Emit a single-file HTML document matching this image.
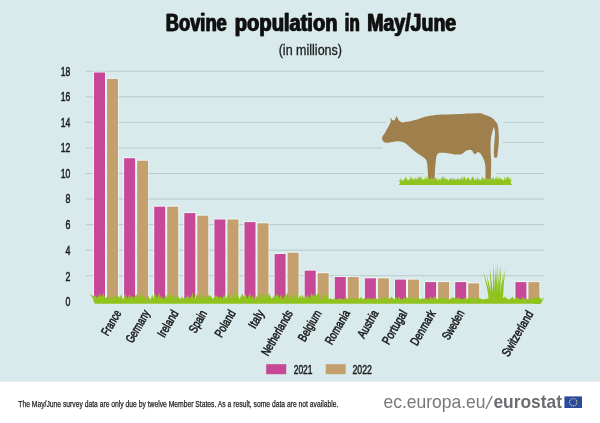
<!DOCTYPE html>
<html><head><meta charset="utf-8"><title>Bovine population in May/June</title>
<style>html,body{margin:0;padding:0;background:#fff}svg{display:block}text{font-family:"Liberation Sans",sans-serif}</style></head><body>
<svg width="600" height="423" viewBox="0 0 600 423">
<rect x="0" y="0" width="600" height="423" fill="#fff"/>
<rect x="0" y="0" width="600" height="381.7" fill="#d8eaec"/>
<text y="31.3" font-size="24.4" font-weight="bold" fill="#111" stroke="#111" stroke-width="0.3" style="filter:drop-shadow(1px 0 0 #111)"><tspan x="165.3" textLength="61" lengthAdjust="spacingAndGlyphs">Bovine</tspan> <tspan x="234.3" textLength="102.7" lengthAdjust="spacingAndGlyphs">population</tspan> <tspan x="344.3" textLength="14.7" lengthAdjust="spacingAndGlyphs">in</tspan> <tspan x="366.7" textLength="89" lengthAdjust="spacingAndGlyphs">May/June</tspan></text>
<text x="278.7" y="55" font-size="14.4" fill="#1a1a1a" stroke="#1a1a1a" stroke-width="0.3" textLength="63.3" lengthAdjust="spacingAndGlyphs">(in millions)</text>
<text x="70.4" y="305.70" font-size="13" fill="#1a1a1a" stroke="#1a1a1a" stroke-width="0.5" text-anchor="end" textLength="4.9" lengthAdjust="spacingAndGlyphs">0</text>
<line x1="85.7" x2="544" y1="275.74" y2="275.74" stroke="#abbdc0" stroke-width="0.7"/>
<text x="70.4" y="281.14" font-size="13" fill="#1a1a1a" stroke="#1a1a1a" stroke-width="0.5" text-anchor="end" textLength="4.9" lengthAdjust="spacingAndGlyphs">2</text>
<line x1="85.7" x2="544" y1="250.18" y2="250.18" stroke="#abbdc0" stroke-width="0.7"/>
<text x="70.4" y="254.58" font-size="13" fill="#1a1a1a" stroke="#1a1a1a" stroke-width="0.5" text-anchor="end" textLength="4.9" lengthAdjust="spacingAndGlyphs">4</text>
<line x1="85.7" x2="544" y1="224.62" y2="224.62" stroke="#abbdc0" stroke-width="0.7"/>
<text x="70.4" y="229.02" font-size="13" fill="#1a1a1a" stroke="#1a1a1a" stroke-width="0.5" text-anchor="end" textLength="4.9" lengthAdjust="spacingAndGlyphs">6</text>
<line x1="85.7" x2="544" y1="199.06" y2="199.06" stroke="#abbdc0" stroke-width="0.7"/>
<text x="70.4" y="203.46" font-size="13" fill="#1a1a1a" stroke="#1a1a1a" stroke-width="0.5" text-anchor="end" textLength="4.9" lengthAdjust="spacingAndGlyphs">8</text>
<line x1="85.7" x2="423.7" y1="173.50" y2="173.50" stroke="#abbdc0" stroke-width="0.7"/>
<line x1="437.5" x2="480.5" y1="173.50" y2="173.50" stroke="#abbdc0" stroke-width="0.7"/>
<line x1="496.2" x2="544" y1="173.50" y2="173.50" stroke="#abbdc0" stroke-width="0.7"/>
<text x="70.4" y="177.90" font-size="13" fill="#1a1a1a" stroke="#1a1a1a" stroke-width="0.5" text-anchor="end" textLength="9.6" lengthAdjust="spacingAndGlyphs">10</text>
<line x1="85.7" x2="382.5" y1="147.94" y2="147.94" stroke="#abbdc0" stroke-width="0.7"/>
<line x1="502.5" x2="544" y1="142.3" y2="142.3" stroke="#abbdc0" stroke-width="0.7"/>
<text x="70.4" y="152.34" font-size="13" fill="#1a1a1a" stroke="#1a1a1a" stroke-width="0.5" text-anchor="end" textLength="9.6" lengthAdjust="spacingAndGlyphs">12</text>
<line x1="85.7" x2="386" y1="122.38" y2="122.38" stroke="#abbdc0" stroke-width="0.7"/>
<line x1="503.7" x2="544" y1="122.38" y2="122.38" stroke="#abbdc0" stroke-width="0.7"/>
<text x="70.4" y="126.78" font-size="13" fill="#1a1a1a" stroke="#1a1a1a" stroke-width="0.5" text-anchor="end" textLength="9.6" lengthAdjust="spacingAndGlyphs">14</text>
<line x1="85.7" x2="544" y1="96.82" y2="96.82" stroke="#abbdc0" stroke-width="0.7"/>
<text x="70.4" y="101.22" font-size="13" fill="#1a1a1a" stroke="#1a1a1a" stroke-width="0.5" text-anchor="end" textLength="9.6" lengthAdjust="spacingAndGlyphs">16</text>
<line x1="85.7" x2="544" y1="71.26" y2="71.26" stroke="#abbdc0" stroke-width="0.7"/>
<text x="70.4" y="75.66" font-size="13" fill="#1a1a1a" stroke="#1a1a1a" stroke-width="0.5" text-anchor="end" textLength="9.6" lengthAdjust="spacingAndGlyphs">18</text>
<path d="M382.3 137.0 C381.8 138.5 382.1 139.4 382.6 140.3 C383.1 141.2 383.6 142.3 385.2 142.6 C386.8 142.9 390.0 142.1 392.3 141.9 C394.6 141.7 396.9 141.2 398.8 141.3 C400.8 141.4 402.3 141.8 404.0 142.6 C405.7 143.4 407.5 145.0 409.2 146.4 C410.9 147.8 412.4 149.4 414.4 150.9 C416.3 152.4 419.0 154.2 420.9 155.6 C422.8 157.0 424.7 157.9 425.8 159.5 C426.9 161.1 426.9 161.7 427.3 165.0 C427.7 168.3 427.9 174.7 428.2 179.5 L434.6 179.5 C434.9 174.7 434.9 169.2 435.4 165.0 C435.8 160.8 436.0 156.2 437.3 154.2 C438.6 152.1 441.0 152.8 443.0 152.7 C445.0 152.6 447.2 153.1 449.5 153.4 C451.8 153.7 455.0 154.4 457.0 154.5 C459.0 154.6 460.2 154.7 461.5 154.2 C462.8 153.7 463.8 152.2 465.0 151.5 C466.2 150.8 467.4 150.1 468.6 149.9 C469.8 149.7 471.2 149.9 472.0 150.4 C472.8 150.9 472.9 152.5 473.5 153.2 C474.1 153.8 474.9 153.9 475.6 154.3 C475.9 153.9 476.1 153.3 476.6 153.0 C477.1 152.7 477.9 151.6 478.8 152.2 C479.8 152.8 481.2 154.4 482.3 156.5 C483.4 158.6 484.7 160.9 485.2 164.7 C485.7 168.5 485.4 174.6 485.5 179.5 L490.8 179.5 C490.9 174.0 491.2 167.7 491.2 163.0 C491.2 158.3 490.6 155.7 490.6 151.5 C490.6 147.3 490.4 142.2 491.0 138.0 C491.6 133.8 492.9 130.3 493.9 126.5 C494.3 128.7 495.0 129.8 495.0 133.0 C495.0 136.2 494.3 142.2 494.1 146.0 C493.9 149.8 493.8 153.8 494.0 155.8 C494.2 157.8 494.7 157.6 495.2 157.8 C495.7 158.0 496.5 157.4 497.2 157.2 C497.7 152.1 498.6 147.0 498.8 142.0 C499.0 137.0 498.6 130.4 498.1 127.0 C497.6 123.6 497.0 123.4 495.8 121.8 C494.6 120.2 492.9 118.5 491.0 117.3 C489.1 116.1 486.2 115.5 484.5 114.8 C482.8 114.1 482.9 113.4 480.5 113.2 C478.1 113.0 473.6 113.3 470.0 113.4 C466.4 113.5 463.1 113.8 458.9 114.0 C454.7 114.2 449.0 114.4 445.0 114.6 C441.0 114.8 438.0 114.8 434.7 115.2 C431.4 115.6 428.4 115.9 425.3 116.7 C422.2 117.5 418.5 119.0 415.8 119.8 C413.1 120.6 410.7 121.2 409.0 121.5 C407.3 121.8 406.8 121.5 405.6 121.7 C404.4 121.9 403.1 122.6 402.0 122.4 C400.9 122.2 399.9 121.2 398.9 120.6 L396.6 116.1 L394.6 120.2 L392.2 120.2 L390.2 116.9 L390.9 121.5 C390.3 122.9 389.9 123.9 389.0 125.6 C388.1 127.2 386.9 129.5 385.8 131.4 C384.7 133.3 382.8 135.5 382.3 137.0 Z" fill="#d8eaec" stroke="#d8eaec" stroke-width="6" stroke-linejoin="round"/>
<path d="M382.3 137.0 C381.8 138.5 382.1 139.4 382.6 140.3 C383.1 141.2 383.6 142.3 385.2 142.6 C386.8 142.9 390.0 142.1 392.3 141.9 C394.6 141.7 396.9 141.2 398.8 141.3 C400.8 141.4 402.3 141.8 404.0 142.6 C405.7 143.4 407.5 145.0 409.2 146.4 C410.9 147.8 412.4 149.4 414.4 150.9 C416.3 152.4 419.0 154.2 420.9 155.6 C422.8 157.0 424.7 157.9 425.8 159.5 C426.9 161.1 426.9 161.7 427.3 165.0 C427.7 168.3 427.9 174.7 428.2 179.5 L434.6 179.5 C434.9 174.7 434.9 169.2 435.4 165.0 C435.8 160.8 436.0 156.2 437.3 154.2 C438.6 152.1 441.0 152.8 443.0 152.7 C445.0 152.6 447.2 153.1 449.5 153.4 C451.8 153.7 455.0 154.4 457.0 154.5 C459.0 154.6 460.2 154.7 461.5 154.2 C462.8 153.7 463.8 152.2 465.0 151.5 C466.2 150.8 467.4 150.1 468.6 149.9 C469.8 149.7 471.2 149.9 472.0 150.4 C472.8 150.9 472.9 152.5 473.5 153.2 C474.1 153.8 474.9 153.9 475.6 154.3 C475.9 153.9 476.1 153.3 476.6 153.0 C477.1 152.7 477.9 151.6 478.8 152.2 C479.8 152.8 481.2 154.4 482.3 156.5 C483.4 158.6 484.7 160.9 485.2 164.7 C485.7 168.5 485.4 174.6 485.5 179.5 L490.8 179.5 C490.9 174.0 491.2 167.7 491.2 163.0 C491.2 158.3 490.6 155.7 490.6 151.5 C490.6 147.3 490.4 142.2 491.0 138.0 C491.6 133.8 492.9 130.3 493.9 126.5 C494.3 128.7 495.0 129.8 495.0 133.0 C495.0 136.2 494.3 142.2 494.1 146.0 C493.9 149.8 493.8 153.8 494.0 155.8 C494.2 157.8 494.7 157.6 495.2 157.8 C495.7 158.0 496.5 157.4 497.2 157.2 C497.7 152.1 498.6 147.0 498.8 142.0 C499.0 137.0 498.6 130.4 498.1 127.0 C497.6 123.6 497.0 123.4 495.8 121.8 C494.6 120.2 492.9 118.5 491.0 117.3 C489.1 116.1 486.2 115.5 484.5 114.8 C482.8 114.1 482.9 113.4 480.5 113.2 C478.1 113.0 473.6 113.3 470.0 113.4 C466.4 113.5 463.1 113.8 458.9 114.0 C454.7 114.2 449.0 114.4 445.0 114.6 C441.0 114.8 438.0 114.8 434.7 115.2 C431.4 115.6 428.4 115.9 425.3 116.7 C422.2 117.5 418.5 119.0 415.8 119.8 C413.1 120.6 410.7 121.2 409.0 121.5 C407.3 121.8 406.8 121.5 405.6 121.7 C404.4 121.9 403.1 122.6 402.0 122.4 C400.9 122.2 399.9 121.2 398.9 120.6 L396.6 116.1 L394.6 120.2 L392.2 120.2 L390.2 116.9 L390.9 121.5 C390.3 122.9 389.9 123.9 389.0 125.6 C388.1 127.2 386.9 129.5 385.8 131.4 C384.7 133.3 382.8 135.5 382.3 137.0 Z" fill="#9f7f4c"/>
<path d="M398.8 185 L401 181.2 L510 181.2 L512 185 Z" fill="#90c31e"/>
<path d="M402 185 L398.6 180 L405 182 Z" fill="#90c31e"/>
<path d="M508 185 L512.2 179.8 L506 182 Z" fill="#90c31e"/>
<path d="M400.5 182.5 L400.2 177.2 L401.8 182.5 ZM400.5 182.5 L401.0 178.8 L403.5 182.5 ZM402.3 182.5 L404.7 178.2 L405.0 182.5 ZM403.4 182.5 L405.3 177.4 L406.6 182.5 ZM404.4 182.5 L406.0 176.1 L407.5 182.5 ZM406.0 182.5 L408.1 178.8 L409.1 182.5 ZM407.7 182.5 L409.8 178.9 L410.4 182.5 ZM408.8 182.5 L410.8 176.1 L411.9 182.5 ZM410.8 182.5 L412.0 176.4 L413.5 182.5 ZM412.3 182.5 L413.2 178.7 L415.6 182.5 ZM413.3 182.5 L415.3 177.6 L416.7 182.5 ZM414.7 182.5 L415.9 177.7 L417.6 182.5 ZM416.1 182.5 L418.0 176.0 L419.1 182.5 ZM417.8 182.5 L419.7 175.7 L421.0 182.5 ZM418.8 182.5 L421.2 175.8 L422.0 182.5 ZM420.3 182.5 L422.5 178.3 L423.4 182.5 ZM421.9 182.5 L424.0 178.8 L424.6 182.5 ZM423.9 182.5 L424.9 176.4 L426.4 182.5 ZM424.8 182.5 L426.8 176.5 L427.4 182.5 ZM425.4 182.5 L427.4 178.9 L428.5 182.5 ZM426.5 182.5 L428.1 175.8 L429.8 182.5 ZM428.7 182.5 L430.2 178.7 L431.4 182.5 ZM429.6 182.5 L431.1 177.7 L432.2 182.5 ZM430.6 182.5 L431.5 176.1 L433.1 182.5 ZM432.0 182.5 L433.6 177.8 L435.3 182.5 ZM433.5 182.5 L435.2 177.0 L436.6 182.5 ZM434.9 182.5 L436.4 177.3 L438.2 182.5 ZM436.8 182.5 L439.1 178.0 L439.4 182.5 ZM438.0 182.5 L439.3 179.0 L441.0 182.5 ZM439.7 182.5 L441.2 177.0 L442.1 182.5 ZM440.3 182.5 L442.2 177.5 L443.3 182.5 ZM441.4 182.5 L442.0 176.6 L444.5 182.5 ZM442.3 182.5 L443.4 175.8 L445.4 182.5 ZM443.7 182.5 L444.9 177.9 L446.7 182.5 ZM444.9 182.5 L445.9 177.0 L447.7 182.5 ZM446.0 182.5 L447.7 178.9 L449.1 182.5 ZM447.8 182.5 L449.7 178.3 L450.5 182.5 ZM448.9 182.5 L450.6 177.6 L451.5 182.5 ZM449.8 182.5 L451.8 177.9 L452.5 182.5 ZM450.8 182.5 L452.1 178.4 L454.0 182.5 ZM452.3 182.5 L453.4 177.5 L455.6 182.5 ZM453.4 182.5 L455.5 178.4 L456.3 182.5 ZM455.3 182.5 L457.2 178.1 L457.9 182.5 ZM456.5 182.5 L457.3 177.9 L459.7 182.5 ZM457.6 182.5 L458.9 178.1 L460.8 182.5 ZM459.1 182.5 L461.3 177.6 L461.9 182.5 ZM460.2 182.5 L462.2 175.9 L462.7 182.5 ZM461.9 182.5 L464.2 175.9 L464.7 182.5 ZM462.8 182.5 L464.7 176.2 L465.9 182.5 ZM464.4 182.5 L465.2 177.9 L467.1 182.5 ZM465.1 182.5 L467.2 178.1 L468.1 182.5 ZM465.8 182.5 L468.3 176.7 L469.1 182.5 ZM467.6 182.5 L468.3 177.1 L470.9 182.5 ZM469.6 182.5 L471.2 178.0 L472.2 182.5 ZM470.9 182.5 L472.5 175.9 L473.7 182.5 ZM472.1 182.5 L473.4 176.2 L474.8 182.5 ZM473.7 182.5 L475.2 178.3 L476.5 182.5 ZM475.5 182.5 L477.6 176.4 L478.1 182.5 ZM476.9 182.5 L478.7 179.0 L480.1 182.5 ZM479.0 182.5 L479.7 178.1 L481.4 182.5 ZM480.2 182.5 L482.1 177.4 L483.0 182.5 ZM481.2 182.5 L481.6 178.6 L483.6 182.5 ZM481.6 182.5 L482.5 176.2 L485.0 182.5 ZM483.3 182.5 L484.3 178.0 L486.0 182.5 ZM484.6 182.5 L485.5 177.8 L487.6 182.5 ZM486.0 182.5 L487.7 177.2 L488.6 182.5 ZM487.3 182.5 L488.3 178.4 L489.8 182.5 ZM488.4 182.5 L490.6 177.7 L491.6 182.5 ZM490.1 182.5 L491.5 177.8 L492.9 182.5 ZM491.6 182.5 L493.0 176.7 L494.5 182.5 ZM492.6 182.5 L493.3 176.7 L495.6 182.5 ZM494.0 182.5 L496.3 176.1 L496.8 182.5 ZM495.0 182.5 L496.1 176.4 L498.2 182.5 ZM496.6 182.5 L498.2 176.3 L499.2 182.5 ZM498.1 182.5 L500.1 176.8 L501.3 182.5 ZM499.8 182.5 L500.1 177.1 L502.3 182.5 ZM500.5 182.5 L501.2 178.9 L503.7 182.5 ZM501.3 182.5 L502.0 178.4 L504.6 182.5 ZM503.4 182.5 L505.0 176.2 L506.0 182.5 ZM504.7 182.5 L507.0 177.1 L508.1 182.5 ZM505.7 182.5 L507.7 177.3 L508.8 182.5 ZM506.6 182.5 L507.3 175.9 L509.8 182.5 ZM507.9 182.5 L508.8 176.3 L510.5 182.5 ZM509.0 182.5 L510.9 177.0 L510.5 182.5 Z" fill="#90c31e"/>
<rect x="93.0" y="71.5" width="13" height="230.8" fill="#fff" fill-opacity="0.55"/>
<rect x="106.0" y="77.9" width="13" height="224.4" fill="#fff" fill-opacity="0.55"/>
<rect x="94.0" y="72.5" width="11" height="229.8" fill="#c84898"/>
<rect x="107.0" y="78.9" width="11" height="223.4" fill="#c4a06e"/>
<rect x="123.1" y="157.2" width="13" height="145.1" fill="#fff" fill-opacity="0.55"/>
<rect x="136.1" y="159.7" width="13" height="142.6" fill="#fff" fill-opacity="0.55"/>
<rect x="124.1" y="158.2" width="11" height="144.1" fill="#c84898"/>
<rect x="137.1" y="160.7" width="11" height="141.6" fill="#c4a06e"/>
<rect x="153.2" y="205.7" width="13" height="96.6" fill="#fff" fill-opacity="0.55"/>
<rect x="166.2" y="205.7" width="13" height="96.6" fill="#fff" fill-opacity="0.55"/>
<rect x="154.2" y="206.7" width="11" height="95.6" fill="#c84898"/>
<rect x="167.2" y="206.7" width="11" height="95.6" fill="#c4a06e"/>
<rect x="183.3" y="212.1" width="13" height="90.2" fill="#fff" fill-opacity="0.55"/>
<rect x="196.3" y="214.7" width="13" height="87.6" fill="#fff" fill-opacity="0.55"/>
<rect x="184.3" y="213.1" width="11" height="89.2" fill="#c84898"/>
<rect x="197.3" y="215.7" width="11" height="86.6" fill="#c4a06e"/>
<rect x="213.4" y="218.5" width="13" height="83.8" fill="#fff" fill-opacity="0.55"/>
<rect x="226.4" y="218.5" width="13" height="83.8" fill="#fff" fill-opacity="0.55"/>
<rect x="214.4" y="219.5" width="11" height="82.8" fill="#c84898"/>
<rect x="227.4" y="219.5" width="11" height="82.8" fill="#c4a06e"/>
<rect x="243.5" y="221.1" width="13" height="81.2" fill="#fff" fill-opacity="0.55"/>
<rect x="256.5" y="222.3" width="13" height="80.0" fill="#fff" fill-opacity="0.55"/>
<rect x="244.5" y="222.1" width="11" height="80.2" fill="#c84898"/>
<rect x="257.5" y="223.3" width="11" height="79.0" fill="#c4a06e"/>
<rect x="273.6" y="253.0" width="13" height="49.3" fill="#fff" fill-opacity="0.55"/>
<rect x="286.6" y="251.7" width="13" height="50.6" fill="#fff" fill-opacity="0.55"/>
<rect x="274.6" y="254.0" width="11" height="48.3" fill="#c84898"/>
<rect x="287.6" y="252.7" width="11" height="49.6" fill="#c4a06e"/>
<rect x="303.7" y="269.6" width="13" height="32.7" fill="#fff" fill-opacity="0.55"/>
<rect x="316.7" y="272.2" width="13" height="30.1" fill="#fff" fill-opacity="0.55"/>
<rect x="304.7" y="270.6" width="11" height="31.7" fill="#c84898"/>
<rect x="317.7" y="273.2" width="11" height="29.1" fill="#c4a06e"/>
<rect x="333.8" y="276.0" width="13" height="26.3" fill="#fff" fill-opacity="0.55"/>
<rect x="346.8" y="276.0" width="13" height="26.3" fill="#fff" fill-opacity="0.55"/>
<rect x="334.8" y="277.0" width="11" height="25.3" fill="#c84898"/>
<rect x="347.8" y="277.0" width="11" height="25.3" fill="#c4a06e"/>
<rect x="363.9" y="277.3" width="13" height="25.0" fill="#fff" fill-opacity="0.55"/>
<rect x="376.9" y="277.3" width="13" height="25.0" fill="#fff" fill-opacity="0.55"/>
<rect x="364.9" y="278.3" width="11" height="24.0" fill="#c84898"/>
<rect x="377.9" y="278.3" width="11" height="24.0" fill="#c4a06e"/>
<rect x="394.0" y="278.6" width="13" height="23.7" fill="#fff" fill-opacity="0.55"/>
<rect x="407.0" y="278.6" width="13" height="23.7" fill="#fff" fill-opacity="0.55"/>
<rect x="395.0" y="279.6" width="11" height="22.7" fill="#c84898"/>
<rect x="408.0" y="279.6" width="11" height="22.7" fill="#c4a06e"/>
<rect x="424.1" y="281.1" width="13" height="21.2" fill="#fff" fill-opacity="0.55"/>
<rect x="437.1" y="281.1" width="13" height="21.2" fill="#fff" fill-opacity="0.55"/>
<rect x="425.1" y="282.1" width="11" height="20.2" fill="#c84898"/>
<rect x="438.1" y="282.1" width="11" height="20.2" fill="#c4a06e"/>
<rect x="454.2" y="281.1" width="13" height="21.2" fill="#fff" fill-opacity="0.55"/>
<rect x="467.2" y="282.4" width="13" height="19.9" fill="#fff" fill-opacity="0.55"/>
<rect x="455.2" y="282.1" width="11" height="20.2" fill="#c84898"/>
<rect x="468.2" y="283.4" width="11" height="18.9" fill="#c4a06e"/>
<rect x="514.4" y="281.1" width="13" height="21.2" fill="#fff" fill-opacity="0.55"/>
<rect x="527.4" y="281.1" width="13" height="21.2" fill="#fff" fill-opacity="0.55"/>
<rect x="515.4" y="282.1" width="11" height="20.2" fill="#c84898"/>
<rect x="528.4" y="282.1" width="11" height="20.2" fill="#c4a06e"/>
<path d="M95 303.8 L92.5 299.4 L542 299.4 L540 303.8 Z" fill="#90c31e"/>
<path d="M97 303.5 L89.8 294.3 L100 299.5 Z" fill="#90c31e"/>
<path d="M534 304 L544.2 297.6 L540.5 304 Z" fill="#90c31e"/>
<path d="M95.0 300.5 L95.5 296.2 L97.1 300.5 ZM95.0 300.5 L95.1 295.2 L99.0 300.5 ZM97.5 300.5 L97.8 294.8 L101.1 300.5 ZM98.9 300.5 L99.7 292.9 L103.2 300.5 ZM100.7 300.5 L103.4 292.3 L105.5 300.5 ZM102.8 300.5 L106.8 296.8 L108.2 300.5 ZM105.8 300.5 L107.0 296.4 L109.5 300.5 ZM109.0 300.5 L111.4 294.1 L112.8 300.5 ZM110.9 300.5 L111.7 296.7 L115.5 300.5 ZM112.8 300.5 L114.6 294.9 L117.7 300.5 ZM115.8 300.5 L119.1 295.5 L120.2 300.5 ZM119.0 300.5 L121.1 294.1 L123.0 300.5 ZM121.9 300.5 L126.1 295.6 L126.9 300.5 ZM124.0 300.5 L125.0 293.2 L128.4 300.5 ZM127.0 300.5 L129.7 293.7 L130.6 300.5 ZM128.9 300.5 L132.2 295.4 L134.2 300.5 ZM132.0 300.5 L135.6 294.7 L136.7 300.5 ZM135.6 300.5 L136.3 293.7 L140.1 300.5 ZM138.5 300.5 L142.0 292.0 L143.3 300.5 ZM140.9 300.5 L141.3 293.7 L145.2 300.5 ZM143.6 300.5 L144.0 296.4 L147.5 300.5 ZM146.8 300.5 L148.3 295.8 L150.6 300.5 ZM150.2 300.5 L152.3 294.8 L153.9 300.5 ZM152.9 300.5 L154.7 292.7 L158.0 300.5 ZM155.8 300.5 L159.5 292.6 L160.0 300.5 ZM157.8 300.5 L158.8 295.8 L161.7 300.5 ZM160.0 300.5 L160.6 295.7 L164.7 300.5 ZM162.7 300.5 L166.4 294.2 L166.9 300.5 ZM165.5 300.5 L168.4 293.9 L170.0 300.5 ZM166.8 300.5 L170.8 293.1 L172.1 300.5 ZM170.5 300.5 L171.2 295.0 L174.8 300.5 ZM173.7 300.5 L174.5 296.7 L177.4 300.5 ZM175.3 300.5 L175.6 296.7 L179.5 300.5 ZM177.5 300.5 L177.6 295.2 L181.2 300.5 ZM180.3 300.5 L181.8 296.3 L185.1 300.5 ZM182.9 300.5 L186.2 296.4 L187.1 300.5 ZM186.4 300.5 L187.1 294.6 L190.8 300.5 ZM188.3 300.5 L191.6 295.7 L192.5 300.5 ZM190.5 300.5 L192.4 292.2 L194.0 300.5 ZM191.8 300.5 L194.2 296.9 L196.4 300.5 ZM195.1 300.5 L196.9 293.5 L200.3 300.5 ZM198.1 300.5 L200.2 293.1 L202.0 300.5 ZM201.2 300.5 L204.4 295.9 L205.3 300.5 ZM204.2 300.5 L208.0 293.0 L209.4 300.5 ZM208.0 300.5 L209.4 294.4 L211.9 300.5 ZM209.8 300.5 L210.7 295.6 L213.3 300.5 ZM211.9 300.5 L216.1 294.8 L217.3 300.5 ZM215.5 300.5 L217.2 295.2 L220.9 300.5 ZM218.3 300.5 L220.7 296.0 L222.2 300.5 ZM221.0 300.5 L224.2 294.6 L226.2 300.5 ZM225.0 300.5 L228.3 293.7 L228.7 300.5 ZM227.5 300.5 L228.9 294.6 L232.5 300.5 ZM231.2 300.5 L234.9 293.0 L235.3 300.5 ZM233.5 300.5 L236.4 292.3 L237.8 300.5 ZM235.7 300.5 L239.0 296.2 L239.4 300.5 ZM238.9 300.5 L242.5 292.9 L242.7 300.5 ZM241.6 300.5 L242.4 294.3 L245.8 300.5 ZM242.6 300.5 L245.4 293.8 L248.0 300.5 ZM246.6 300.5 L250.0 292.6 L251.0 300.5 ZM248.8 300.5 L249.9 295.5 L252.8 300.5 ZM251.6 300.5 L252.3 294.9 L255.6 300.5 ZM254.9 300.5 L257.3 294.7 L259.1 300.5 ZM258.3 300.5 L260.5 292.4 L262.6 300.5 ZM260.9 300.5 L262.9 296.9 L265.4 300.5 ZM263.3 300.5 L263.9 293.0 L266.8 300.5 ZM265.2 300.5 L267.0 294.2 L270.1 300.5 ZM268.0 300.5 L268.8 293.1 L272.6 300.5 ZM271.0 300.5 L274.0 295.6 L275.0 300.5 ZM273.3 300.5 L277.1 293.2 L277.9 300.5 ZM275.7 300.5 L278.1 294.5 L280.5 300.5 ZM278.9 300.5 L281.0 294.3 L283.3 300.5 ZM282.2 300.5 L286.2 292.6 L287.1 300.5 ZM284.4 300.5 L287.9 292.3 L289.0 300.5 ZM286.7 300.5 L287.0 294.8 L290.4 300.5 ZM288.8 300.5 L291.6 293.7 L292.4 300.5 ZM292.1 300.5 L294.6 293.4 L295.9 300.5 ZM293.3 300.5 L294.9 292.2 L298.5 300.5 ZM297.3 300.5 L301.2 294.6 L301.6 300.5 ZM300.8 300.5 L302.8 294.8 L304.6 300.5 ZM303.0 300.5 L305.8 295.4 L306.9 300.5 ZM304.3 300.5 L304.9 294.8 L308.9 300.5 ZM306.5 300.5 L307.3 294.4 L311.2 300.5 ZM309.9 300.5 L311.0 292.1 L315.0 300.5 ZM312.8 300.5 L313.7 293.1 L316.4 300.5 ZM314.2 300.5 L317.5 292.4 L318.6 300.5 ZM316.6 300.5 L318.7 292.4 L320.4 300.5 ZM319.7 300.5 L322.2 296.7 L323.4 300.5 ZM322.1 300.5 L324.4 292.3 L325.8 300.5 ZM325.3 300.5 L325.6 292.7 L329.0 300.5 ZM328.3 300.5 L330.7 297.9 L332.7 300.5 ZM332.0 300.5 L334.1 298.4 L336.0 300.5 ZM334.2 300.5 L334.5 298.3 L337.9 300.5 ZM336.0 300.5 L339.0 298.0 L340.1 300.5 ZM338.0 300.5 L339.7 298.3 L342.5 300.5 ZM339.8 300.5 L342.7 298.7 L343.8 300.5 ZM342.6 300.5 L346.1 297.6 L346.5 300.5 ZM343.7 300.5 L346.3 297.7 L348.9 300.5 ZM347.5 300.5 L350.3 297.5 L351.7 300.5 ZM351.1 300.5 L354.0 296.7 L355.3 300.5 ZM353.9 300.5 L354.5 297.9 L358.2 300.5 ZM356.1 300.5 L357.0 296.9 L359.7 300.5 ZM358.0 300.5 L361.2 296.6 L361.7 300.5 ZM360.7 300.5 L362.0 298.1 L364.8 300.5 ZM363.4 300.5 L364.4 297.6 L367.2 300.5 ZM366.1 300.5 L367.9 297.4 L371.6 300.5 ZM370.4 300.5 L370.6 297.9 L374.5 300.5 ZM372.5 300.5 L373.7 297.5 L377.0 300.5 ZM375.6 300.5 L375.9 298.1 L379.1 300.5 ZM378.0 300.5 L379.1 298.7 L381.6 300.5 ZM379.5 300.5 L382.7 297.4 L384.2 300.5 ZM382.3 300.5 L384.3 296.6 L387.2 300.5 ZM384.3 300.5 L387.8 298.4 L389.7 300.5 ZM388.1 300.5 L391.3 296.7 L391.7 300.5 ZM390.3 300.5 L391.4 296.7 L395.2 300.5 ZM393.1 300.5 L396.5 296.7 L397.7 300.5 ZM396.3 300.5 L399.3 296.5 L401.0 300.5 ZM399.7 300.5 L400.4 298.7 L403.7 300.5 ZM402.1 300.5 L404.2 296.7 L405.8 300.5 ZM404.5 300.5 L406.8 297.0 L409.2 300.5 ZM405.9 300.5 L408.4 296.9 L411.0 300.5 ZM408.7 300.5 L411.9 298.6 L413.5 300.5 ZM411.4 300.5 L414.0 298.1 L415.0 300.5 ZM412.7 300.5 L415.1 296.3 L417.7 300.5 ZM415.3 300.5 L418.5 297.0 L419.8 300.5 ZM418.0 300.5 L419.1 298.6 L422.8 300.5 ZM420.0 300.5 L422.7 298.0 L424.9 300.5 ZM422.2 300.5 L424.7 298.1 L425.8 300.5 ZM424.6 300.5 L427.1 298.0 L429.5 300.5 ZM427.3 300.5 L431.0 298.5 L431.8 300.5 ZM428.8 300.5 L429.8 296.4 L434.3 300.5 ZM431.5 300.5 L433.9 296.3 L436.6 300.5 ZM434.2 300.5 L435.1 296.4 L438.1 300.5 ZM437.1 300.5 L440.6 297.4 L440.8 300.5 ZM438.2 300.5 L442.2 297.5 L443.3 300.5 ZM441.8 300.5 L443.8 296.5 L445.8 300.5 ZM443.7 300.5 L445.2 297.5 L447.2 300.5 ZM445.7 300.5 L446.9 297.9 L449.5 300.5 ZM449.2 300.5 L452.1 296.9 L452.7 300.5 ZM450.0 300.5 L454.2 297.0 L455.4 300.5 ZM452.8 300.5 L456.7 297.8 L457.0 300.5 ZM455.6 300.5 L456.9 297.7 L459.8 300.5 ZM457.5 300.5 L458.6 296.7 L461.2 300.5 ZM460.8 300.5 L462.9 298.1 L464.8 300.5 ZM462.7 300.5 L466.2 296.4 L466.9 300.5 ZM465.7 300.5 L469.6 296.5 L470.4 300.5 ZM468.3 300.5 L471.6 298.6 L473.2 300.5 ZM470.7 300.5 L472.5 297.1 L475.7 300.5 ZM472.2 300.5 L474.8 298.4 L477.6 300.5 ZM475.1 300.5 L478.9 296.9 L479.2 300.5 ZM476.9 300.5 L479.5 298.0 L481.7 300.5 ZM479.7 300.5 L480.6 298.3 L483.6 300.5 ZM482.9 300.5 L486.6 298.2 L487.3 300.5 ZM486.5 300.5 L487.6 298.4 L490.9 300.5 ZM488.4 300.5 L489.5 298.5 L492.6 300.5 ZM490.3 300.5 L493.5 296.5 L494.9 300.5 ZM492.8 300.5 L494.6 297.4 L497.2 300.5 ZM495.4 300.5 L498.9 298.1 L499.1 300.5 ZM496.8 300.5 L500.4 297.2 L501.3 300.5 ZM499.1 300.5 L500.7 298.1 L503.1 300.5 ZM500.9 300.5 L504.9 296.6 L506.3 300.5 ZM503.4 300.5 L506.6 297.0 L507.0 300.5 ZM505.4 300.5 L507.3 298.7 L510.1 300.5 ZM508.6 300.5 L512.9 296.6 L513.8 300.5 ZM511.4 300.5 L513.4 298.4 L515.2 300.5 ZM513.6 300.5 L516.8 296.9 L519.0 300.5 ZM517.2 300.5 L517.8 297.4 L521.6 300.5 ZM520.6 300.5 L523.1 296.5 L524.6 300.5 ZM522.9 300.5 L525.3 298.1 L526.7 300.5 ZM526.0 300.5 L527.9 298.6 L529.7 300.5 ZM528.4 300.5 L531.0 298.2 L532.7 300.5 ZM530.1 300.5 L533.8 297.6 L534.2 300.5 ZM532.4 300.5 L534.1 297.6 L537.7 300.5 ZM534.4 300.5 L536.5 297.0 L539.9 300.5 ZM536.5 300.5 L538.5 297.1 L541.0 300.5 ZM538.4 300.5 L539.9 296.4 L541.0 300.5 Z" fill="#90c31e"/>
<path d="M489.2 300 Q486.9 285.5 483.0 271 Q488.3 285.5 491.8 300 Z" fill="#90c31e"/>
<path d="M490.2 300 Q488.9 287.0 486.5 274 Q490.3 287.0 492.8 300 Z" fill="#90c31e"/>
<path d="M491.2 300 Q490.7 283.6 489.5 267.3 Q492.1 283.6 493.8 300 Z" fill="#90c31e"/>
<path d="M492.8 300 Q493.1 281.7 493.4 263.4 Q494.5 281.7 495.2 300 Z" fill="#90c31e"/>
<path d="M494.2 300 Q494.8 284.0 495.5 268 Q496.2 284.0 496.8 300 Z" fill="#90c31e"/>
<path d="M495.2 300 Q496.1 281.4 497.3 262.8 Q497.5 281.4 497.8 300 Z" fill="#90c31e"/>
<path d="M496.8 300 Q497.9 284.0 499.5 268 Q499.3 284.0 499.2 300 Z" fill="#90c31e"/>
<path d="M497.8 300 Q499.1 282.7 501.2 265.4 Q500.5 282.7 500.2 300 Z" fill="#90c31e"/>
<path d="M499.2 300 Q500.9 286.0 503.5 272 Q502.3 286.0 501.8 300 Z" fill="#90c31e"/>
<path d="M500.2 300 Q502.2 284.2 505.3 268.5 Q503.6 284.2 502.8 300 Z" fill="#90c31e"/>
<path d="M487.5 301 L489 295 L491 297 L493 291 L495 295 L497 290 L499 295 L501 292 L502.5 296 L504 301 Z" fill="#90c31e"/>
<text transform="translate(121.6 313.1) rotate(-60)" font-size="12.5" fill="#1a1a1a" stroke="#1a1a1a" stroke-width="0.55" text-anchor="end" textLength="27" lengthAdjust="spacingAndGlyphs">France</text>
<text transform="translate(150.2 313.1) rotate(-60)" font-size="12.5" fill="#1a1a1a" stroke="#1a1a1a" stroke-width="0.55" text-anchor="end" textLength="35.5" lengthAdjust="spacingAndGlyphs">Germany</text>
<text transform="translate(178.8 313.1) rotate(-60)" font-size="12.5" fill="#1a1a1a" stroke="#1a1a1a" stroke-width="0.55" text-anchor="end" textLength="29" lengthAdjust="spacingAndGlyphs">Ireland</text>
<text transform="translate(207.4 313.1) rotate(-60)" font-size="12.5" fill="#1a1a1a" stroke="#1a1a1a" stroke-width="0.55" text-anchor="end" textLength="24" lengthAdjust="spacingAndGlyphs">Spain</text>
<text transform="translate(236.0 313.1) rotate(-60)" font-size="12.5" fill="#1a1a1a" stroke="#1a1a1a" stroke-width="0.55" text-anchor="end" textLength="29" lengthAdjust="spacingAndGlyphs">Poland</text>
<text transform="translate(264.6 313.1) rotate(-60)" font-size="12.5" fill="#1a1a1a" stroke="#1a1a1a" stroke-width="0.55" text-anchor="end" textLength="19" lengthAdjust="spacingAndGlyphs">Italy</text>
<text transform="translate(293.2 313.1) rotate(-60)" font-size="12.5" fill="#1a1a1a" stroke="#1a1a1a" stroke-width="0.55" text-anchor="end" textLength="50.5" lengthAdjust="spacingAndGlyphs">Netherlands</text>
<text transform="translate(321.8 313.1) rotate(-60)" font-size="12.5" fill="#1a1a1a" stroke="#1a1a1a" stroke-width="0.55" text-anchor="end" textLength="34" lengthAdjust="spacingAndGlyphs">Belgium</text>
<text transform="translate(350.4 313.1) rotate(-60)" font-size="12.5" fill="#1a1a1a" stroke="#1a1a1a" stroke-width="0.55" text-anchor="end" textLength="37.5" lengthAdjust="spacingAndGlyphs">Romania</text>
<text transform="translate(379.0 313.1) rotate(-60)" font-size="12.5" fill="#1a1a1a" stroke="#1a1a1a" stroke-width="0.55" text-anchor="end" textLength="30" lengthAdjust="spacingAndGlyphs">Austria</text>
<text transform="translate(407.6 313.1) rotate(-60)" font-size="12.5" fill="#1a1a1a" stroke="#1a1a1a" stroke-width="0.55" text-anchor="end" textLength="37.5" lengthAdjust="spacingAndGlyphs">Portugal</text>
<text transform="translate(436.2 313.1) rotate(-60)" font-size="12.5" fill="#1a1a1a" stroke="#1a1a1a" stroke-width="0.55" text-anchor="end" textLength="38.5" lengthAdjust="spacingAndGlyphs">Denmark</text>
<text transform="translate(464.8 313.1) rotate(-60)" font-size="12.5" fill="#1a1a1a" stroke="#1a1a1a" stroke-width="0.55" text-anchor="end" textLength="32" lengthAdjust="spacingAndGlyphs">Sweden</text>
<text transform="translate(533.7 313.8) rotate(-60)" font-size="12.5" fill="#1a1a1a" stroke="#1a1a1a" stroke-width="0.55" text-anchor="end" textLength="50.5" lengthAdjust="spacingAndGlyphs">Switzerland</text>
<rect x="266.2" y="364.2" width="20" height="10" fill="#c84898"/>
<text x="293.7" y="373.9" font-size="12.5" fill="#1a1a1a" stroke="#1a1a1a" stroke-width="0.5" textLength="18.8" lengthAdjust="spacingAndGlyphs">2021</text>
<rect x="325.7" y="364.2" width="20" height="10" fill="#c4a06e"/>
<text x="352.5" y="373.9" font-size="12.5" fill="#1a1a1a" stroke="#1a1a1a" stroke-width="0.5" textLength="19.5" lengthAdjust="spacingAndGlyphs">2022</text>
<text x="18.3" y="406.7" font-size="9.5" fill="#1a1a1a" stroke="#1a1a1a" stroke-width="0.25" textLength="320" lengthAdjust="spacingAndGlyphs">The May/June survey data are only due by twelve Member States. As a result, some data are not available.</text>
<text y="408.1" font-size="18.2" fill="#77787b"><tspan x="383.5" textLength="102" lengthAdjust="spacingAndGlyphs">ec.europa.eu</tspan><tspan x="486.2" dy="0.5" font-style="italic">/</tspan><tspan x="493.4" dy="-0.5" font-weight="bold" fill="#6d6e71" textLength="68.6" lengthAdjust="spacingAndGlyphs">eurostat</tspan></text>
<rect x="564.4" y="396.4" width="17.6" height="11.6" fill="#2b4a9b"/>
<circle cx="573.20" cy="398.50" r="0.6" fill="#ebe27e"/>
<circle cx="575.05" cy="399.00" r="0.6" fill="#ebe27e"/>
<circle cx="576.40" cy="400.35" r="0.6" fill="#ebe27e"/>
<circle cx="576.90" cy="402.20" r="0.6" fill="#ebe27e"/>
<circle cx="576.40" cy="404.05" r="0.6" fill="#ebe27e"/>
<circle cx="575.05" cy="405.40" r="0.6" fill="#ebe27e"/>
<circle cx="573.20" cy="405.90" r="0.6" fill="#ebe27e"/>
<circle cx="571.35" cy="405.40" r="0.6" fill="#ebe27e"/>
<circle cx="570.00" cy="404.05" r="0.6" fill="#ebe27e"/>
<circle cx="569.50" cy="402.20" r="0.6" fill="#ebe27e"/>
<circle cx="570.00" cy="400.35" r="0.6" fill="#ebe27e"/>
<circle cx="571.35" cy="399.00" r="0.6" fill="#ebe27e"/>
</svg></body></html>
